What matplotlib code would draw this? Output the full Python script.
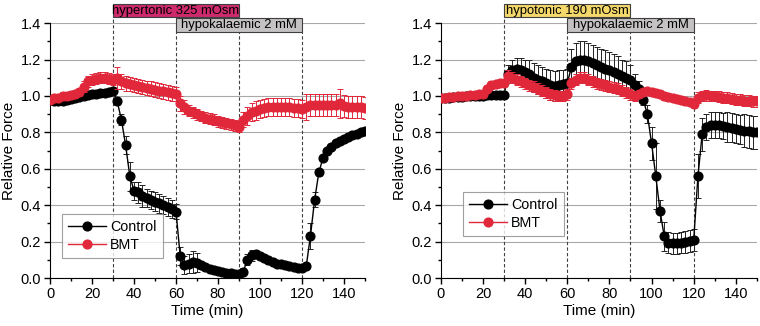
import numpy as np
import matplotlib
matplotlib.use("Agg")
import matplotlib.pyplot as plt
from matplotlib.patches import Rectangle
from matplotlib.ticker import MultipleLocator
import matplotlib.transforms as mtransforms

plt.rcParams["font.family"] = ["Liberation Sans", "DejaVu Sans"]

# time points (min)
time = [0, 2, 4, 6, 8, 10, 12, 14, 16, 18, 20, 22, 24, 26, 28, 30, 32, 34, 36, 38,
        40, 42, 44, 46, 48, 50, 52, 54, 56, 58, 60, 62, 64, 66, 68, 70, 72, 74, 76, 78,
        80, 82, 84, 86, 88, 90, 92, 94, 96, 98, 100, 102, 104, 106, 108, 110, 112, 114, 116, 118,
        120, 122, 124, 126, 128, 130, 132, 134, 136, 138, 140, 142, 144, 146, 148, 150]

# left panel: hypertonic
hyper_ctrl = [0.98, 0.97, 0.97, 0.975, 0.98, 0.985, 0.99, 0.995, 1.00, 1.005, 1.01, 1.01, 1.015, 1.015, 1.02, 1.025, 0.97, 0.87, 0.73, 0.56,
              0.48, 0.47, 0.45, 0.44, 0.43, 0.42, 0.41, 0.40, 0.39, 0.38, 0.365, 0.12, 0.07, 0.08, 0.09, 0.085, 0.07, 0.06, 0.05, 0.045,
              0.04, 0.035, 0.03, 0.03, 0.025, 0.02, 0.035, 0.10, 0.125, 0.13, 0.12, 0.11, 0.10, 0.09, 0.08, 0.075, 0.07, 0.065, 0.06, 0.055,
              0.055, 0.065, 0.23, 0.43, 0.58, 0.66, 0.70, 0.72, 0.74, 0.755, 0.765, 0.775, 0.785, 0.79, 0.80, 0.81]
hyper_ctrl_err = [0.01, 0.01, 0.01, 0.01, 0.01, 0.01, 0.01, 0.01, 0.01, 0.01, 0.01, 0.01, 0.01, 0.01, 0.01, 0.01, 0.02, 0.03, 0.05, 0.08,
                  0.05, 0.06, 0.06, 0.05, 0.05, 0.05, 0.05, 0.05, 0.05, 0.05, 0.04, 0.05, 0.05, 0.05, 0.06, 0.05, 0.02, 0.01, 0.01, 0.01,
                  0.01, 0.01, 0.01, 0.01, 0.01, 0.01, 0.02, 0.03, 0.03, 0.02, 0.01, 0.01, 0.01, 0.01, 0.01, 0.01, 0.01, 0.01, 0.01, 0.01,
                  0.01, 0.01, 0.07, 0.04, 0.02, 0.01, 0.01, 0.01, 0.01, 0.01, 0.01, 0.01, 0.01, 0.01, 0.01, 0.01]
hyper_bmt = [0.98, 0.99, 0.99, 1.00, 1.00, 1.005, 1.01, 1.02, 1.05, 1.08, 1.09, 1.095, 1.10, 1.10, 1.095, 1.09, 1.10, 1.08, 1.07, 1.065,
             1.06, 1.055, 1.05, 1.045, 1.04, 1.035, 1.03, 1.025, 1.02, 1.015, 1.01, 0.96, 0.94, 0.92, 0.91, 0.90, 0.89, 0.88, 0.875, 0.87,
             0.86, 0.855, 0.85, 0.845, 0.84, 0.83, 0.87, 0.89, 0.91, 0.92, 0.93, 0.935, 0.94, 0.94, 0.94, 0.94, 0.94, 0.94, 0.935, 0.935,
             0.93, 0.94, 0.95, 0.95, 0.95, 0.95, 0.95, 0.95, 0.95, 0.96, 0.945, 0.94, 0.94, 0.94, 0.94, 0.935]
hyper_bmt_err = [0.02, 0.02, 0.02, 0.02, 0.02, 0.02, 0.02, 0.02, 0.03, 0.03, 0.03, 0.03, 0.03, 0.03, 0.03, 0.03, 0.06, 0.04, 0.04, 0.04,
                 0.04, 0.04, 0.04, 0.04, 0.04, 0.04, 0.04, 0.04, 0.04, 0.04, 0.04, 0.04, 0.04, 0.03, 0.03, 0.03, 0.03, 0.03, 0.03, 0.03,
                 0.03, 0.03, 0.03, 0.03, 0.03, 0.03, 0.04, 0.05, 0.05, 0.05, 0.05, 0.05, 0.05, 0.05, 0.05, 0.05, 0.05, 0.05, 0.05, 0.05,
                 0.05, 0.07, 0.06, 0.06, 0.06, 0.06, 0.06, 0.06, 0.06, 0.08, 0.06, 0.06, 0.06, 0.06, 0.06, 0.06]

# right panel: hypotonic
hypo_ctrl = [0.99, 0.99, 0.99, 0.995, 0.995, 0.995, 1.00, 1.00, 1.00, 1.00, 1.00, 1.005, 1.005, 1.005, 1.005, 1.005, 1.12, 1.14, 1.15, 1.14,
             1.13, 1.12, 1.10, 1.09, 1.08, 1.07, 1.06, 1.055, 1.06, 1.065, 1.07, 1.16, 1.19, 1.20, 1.20, 1.19, 1.18, 1.17, 1.16, 1.15,
             1.14, 1.13, 1.12, 1.11, 1.10, 1.09, 1.06, 1.04, 0.98, 0.90, 0.74, 0.56, 0.37, 0.23, 0.195, 0.19, 0.19, 0.195, 0.20, 0.205,
             0.21, 0.56, 0.79, 0.83, 0.84, 0.84, 0.84, 0.835, 0.83, 0.825, 0.82, 0.815, 0.81, 0.805, 0.80, 0.80]
hypo_ctrl_err = [0.01, 0.01, 0.01, 0.01, 0.01, 0.01, 0.01, 0.01, 0.01, 0.01, 0.01, 0.01, 0.01, 0.01, 0.01, 0.01, 0.05, 0.06, 0.06, 0.07,
                 0.07, 0.08, 0.08, 0.08, 0.08, 0.08, 0.08, 0.08, 0.08, 0.08, 0.08, 0.10, 0.10, 0.10, 0.10, 0.10, 0.10, 0.10, 0.10, 0.10,
                 0.10, 0.10, 0.10, 0.09, 0.09, 0.08, 0.06, 0.04, 0.03, 0.05, 0.09, 0.18, 0.06, 0.08, 0.06, 0.06, 0.06, 0.06, 0.06, 0.06,
                 0.06, 0.12, 0.09, 0.07, 0.07, 0.07, 0.07, 0.07, 0.08, 0.08, 0.08, 0.08, 0.09, 0.09, 0.09, 0.09]
hypo_bmt = [0.99, 0.99, 0.995, 0.995, 1.00, 1.00, 1.00, 1.005, 1.005, 1.01, 1.01, 1.04, 1.06, 1.065, 1.07, 1.07, 1.11, 1.10, 1.09, 1.08,
            1.07, 1.06, 1.05, 1.04, 1.03, 1.02, 1.01, 1.005, 1.00, 1.00, 1.01, 1.07, 1.09, 1.10, 1.10, 1.09, 1.08, 1.07, 1.065, 1.06,
            1.05, 1.045, 1.04, 1.03, 1.02, 1.01, 1.00, 1.01, 1.02, 1.025, 1.02, 1.015, 1.01, 1.00, 0.995, 0.99, 0.985, 0.98, 0.97, 0.965,
            0.955, 0.99, 1.00, 1.005, 1.00, 1.00, 0.995, 0.99, 0.99, 0.985, 0.98, 0.98, 0.975, 0.975, 0.97, 0.97]
hypo_bmt_err = [0.01, 0.01, 0.01, 0.01, 0.01, 0.01, 0.01, 0.01, 0.01, 0.01, 0.01, 0.02, 0.02, 0.02, 0.02, 0.02, 0.03, 0.03, 0.03, 0.03,
                0.03, 0.03, 0.03, 0.03, 0.03, 0.03, 0.03, 0.03, 0.03, 0.03, 0.03, 0.03, 0.03, 0.03, 0.03, 0.03, 0.03, 0.03, 0.03, 0.03,
                0.03, 0.03, 0.03, 0.03, 0.03, 0.03, 0.03, 0.02, 0.02, 0.02, 0.02, 0.02, 0.02, 0.02, 0.02, 0.02, 0.02, 0.02, 0.02, 0.02,
                0.02, 0.03, 0.03, 0.03, 0.03, 0.03, 0.03, 0.03, 0.03, 0.03, 0.03, 0.03, 0.03, 0.03, 0.03, 0.03]

RED = "#E0283A"
BLACK = "#000000"


def draw_panel(ax, ctrl, ctrl_err, bmt, bmt_err, top_label, top_color, leg_anchor):
    ax.set_xlim(0, 150)
    ax.set_ylim(0, 1.4)
    ax.yaxis.grid(True, color="#A8A8A8", lw=0.8)
    ax.set_axisbelow(True)
    for s in ("top", "right"):
        ax.spines[s].set_visible(False)
    ax.xaxis.set_major_locator(MultipleLocator(20))
    ax.xaxis.set_minor_locator(MultipleLocator(10))
    ax.yaxis.set_major_locator(MultipleLocator(0.2))
    ax.yaxis.set_minor_locator(MultipleLocator(0.1))
    ax.yaxis.set_major_formatter(matplotlib.ticker.FormatStrFormatter("%.1f"))
    ax.tick_params(which="major", length=4, width=1, labelsize=10.5, pad=2.5)
    ax.tick_params(which="minor", length=2.5, width=1)
    ax.set_xlabel("Time (min)", fontsize=11, labelpad=2)
    ax.set_ylabel("Relative Force", fontsize=11, labelpad=3)

    tr = mtransforms.blended_transform_factory(ax.transData, ax.transAxes)
    y_top0, y_top1 = 1.0235, 1.074
    y_mid0, y_mid1 = 0.965, 1.02
    # dashed markers for solution changes
    for x, ytop in ((30, y_top0), (90, y_top0), (60, y_mid0), (120, y_mid0)):
        ax.plot([x, x], [0, ytop], transform=tr, color="#404040", lw=0.8,
                ls=(0, (3, 2)), clip_on=False, zorder=1)
    ax.add_patch(Rectangle((30, y_top0), 60, y_top1 - y_top0, transform=tr,
                           facecolor=top_color, edgecolor="#404040", lw=0.8,
                           clip_on=False, zorder=5))
    ax.text(60, (y_top0 + y_top1) / 2, top_label, transform=tr, ha="center",
            va="center", fontsize=9.4, zorder=6, clip_on=False)
    ax.add_patch(Rectangle((60, y_mid0), 60, y_mid1 - y_mid0, transform=tr,
                           facecolor="#C4C2C2", edgecolor="#404040", lw=0.8,
                           clip_on=False, zorder=5))
    ax.text(90, (y_mid0 + y_mid1) / 2, "hypokalaemic 2 mM", transform=tr,
            ha="center", va="center", fontsize=9.4, zorder=6, clip_on=False)

    ax.errorbar(time, ctrl, yerr=ctrl_err, color=BLACK, ecolor="#222222",
                elinewidth=0.7, capsize=2.2, capthick=0.7, lw=1, marker="o",
                ms=6.3, label="Control", zorder=3)
    ax.errorbar(time, bmt, yerr=bmt_err, color=RED, ecolor=RED,
                elinewidth=0.7, capsize=2.2, capthick=0.7, lw=1, marker="o",
                ms=6.3, label="BMT", zorder=4)
    h, l = ax.get_legend_handles_labels()
    h = [hh[0] for hh in h]
    leg = ax.legend(h, l, loc="lower left", bbox_to_anchor=leg_anchor,
                    fontsize=10.3, frameon=True, fancybox=False, handlelength=2.6,
                    borderpad=0.45, labelspacing=0.25, handletextpad=0.3,
                    borderaxespad=0)
    leg.get_frame().set_edgecolor("#888888")
    leg.get_frame().set_linewidth(0.8)


fig = plt.figure(figsize=(7.6, 3.26), dpi=100)
ax1 = fig.add_axes([0.0658, 0.147, 0.4145, 0.782])
ax2 = fig.add_axes([0.580, 0.147, 0.416, 0.782])

draw_panel(ax1, hyper_ctrl, hyper_ctrl_err, hyper_bmt, hyper_bmt_err,
           "hypertonic 325 mOsm", "#CC2A6C", (0.038, 0.078))
draw_panel(ax2, hypo_ctrl, hypo_ctrl_err, hypo_bmt, hypo_bmt_err,
           "hypotonic 190 mOsm", "#F5D86A", (0.07, 0.165))

fig.savefig("out.png", dpi=100)
